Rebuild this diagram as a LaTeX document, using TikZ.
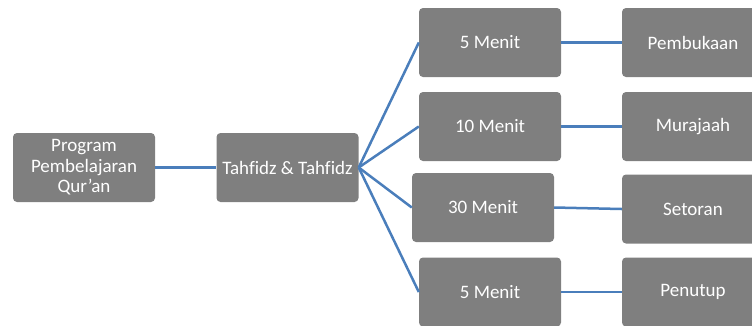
\documentclass[tikz,border=0pt]{standalone}
\usepackage{fontspec}
\setmainfont[Ligatures=NoCommon]{Carlito}
\definecolor{boxgray}{RGB}{127,127,127}
\definecolor{linkblue}{RGB}{74,126,187}
\tikzset{
  box/.style={fill=boxgray,draw=none,rounded corners=4pt,text=white,
    minimum width=142pt,minimum height=69pt,align=center,inner sep=2pt,
    font=\fontsize{19}{20.5}\selectfont},
  link/.style={draw=linkblue,line width=2.5pt}
}
\begin{document}
\begin{tikzpicture}[x=1pt,y=-1pt]
    \useasboundingbox (0,0) rectangle (752,325);
    \clip (0,0) rectangle (752,325);
    \node[box] (prog) at (84,167.5) {Program\\Pembelajaran\\Qur’an};
    \node[box] (tahfidz) at (287.5,167.5) {Tahfidz \& Tahfidz};
    \foreach \i/\x/\y/\t in {1/490/42.5/5 Menit,2/490/126.5/10 Menit,
                             3/483/207.5/30 Menit,4/490/292/5 Menit}{
      \node[box] (m\i) at (\x,\y) {\t};
    }
    \foreach \i/\y/\t in {1/42.5/Pembukaan,2/126.5/Murajaah,
                          3/209/Setoran,4/292/Penutup}{
      \node[box] (r\i) at (693,\y) {\t};
    }
    \draw[link] (prog) -- (tahfidz);
    \foreach \i in {1,...,4}{
      \draw[link] (tahfidz.east) -- (m\i.west);
      \draw[link] (m\i.east) -- (r\i.west);
    }
\end{tikzpicture}
\end{document}
